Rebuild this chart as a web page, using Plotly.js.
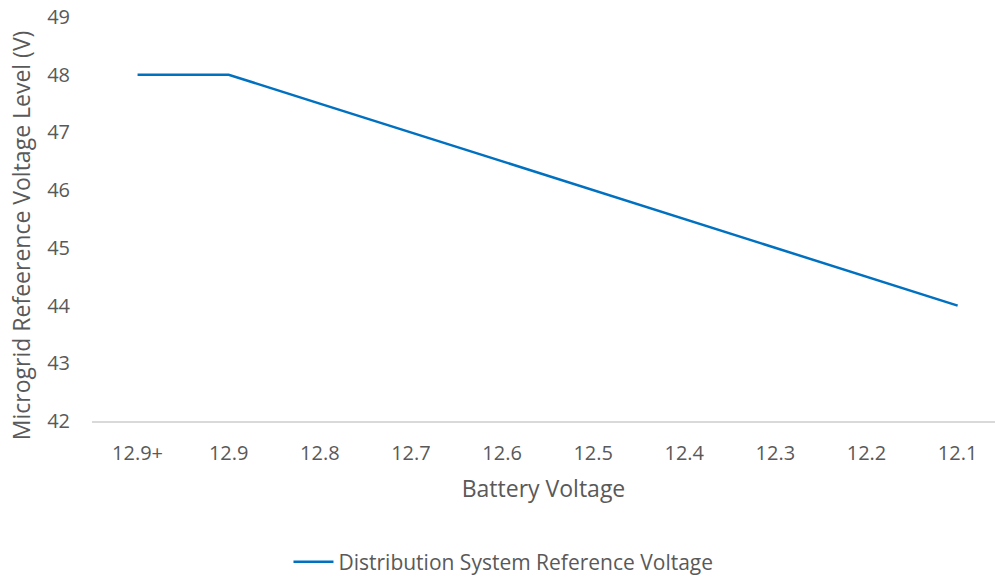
<!DOCTYPE html>
<html>
<head>
<meta charset="utf-8">
<script src="https://cdn.plot.ly/plotly-3.0.1.min.js"></script>
<style>
  html, body { margin: 0; padding: 0; background: #ffffff; }
  #chart { width: 995px; height: 577px; }
</style>
</head>
<body>
<div id="chart"></div>
<script>
// Battery voltage steps (x categories) and the microgrid reference voltage set at each step
const batteryVoltage = ['12.9+', '12.9', '12.8', '12.7', '12.6', '12.5', '12.4', '12.3', '12.2', '12.1'];
const referenceVoltage = [48, 48, 47.5, 47, 46.5, 46, 45.5, 45, 44.5, 44];
const yTickValues = [42, 43, 44, 45, 46, 47, 48, 49];

const textColor = '#595959';
const fontFamily = '"Open Sans", "Noto Sans", sans-serif';

const trace = {
  type: 'scatter',
  mode: 'lines',
  x: batteryVoltage,
  y: referenceVoltage,
  name: 'Distribution System Reference Voltage',
  line: { color: '#0070C0', width: 2.5 },
  hoverinfo: 'skip'
};

const layout = {
  width: 995,
  height: 577,
  margin: { l: 92, r: 0, t: 17, b: 156 },
  paper_bgcolor: '#ffffff',
  plot_bgcolor: '#ffffff',
  font: { family: fontFamily, color: textColor, size: 20 },
  showlegend: true,
  legend: {
    orientation: 'h',
    xref: 'container',
    yref: 'container',
    x: 0.506,
    xanchor: 'center',
    y: 0.026,
    yanchor: 'middle',
    font: { size: 21, color: textColor },
    itemwidth: 40
  },
  xaxis: {
    type: 'category',
    range: [-0.5, 9.41],
    showgrid: false,
    zeroline: false,
    showline: true,
    linecolor: '#d9d9d9',
    linewidth: 2,
    ticks: '',
    ticklabelstandoff: 13,
    tickfont: { size: 20, color: textColor },
    title: { text: 'Battery Voltage', font: { size: 23, color: textColor }, standoff: 16 }
  },
  yaxis: {
    range: [42, 49],
    tickvals: yTickValues,
    showgrid: false,
    zeroline: false,
    showline: false,
    ticks: '',
    ticklabelstandoff: 21,
    tickfont: { size: 20, color: textColor }
  },
  annotations: [{
    // vertical axis title, placed left of the tick labels
    text: 'Microgrid Refeerence Voltage Level (V)',
    textangle: -90,
    xref: 'paper',
    yref: 'paper',
    x: -0.0786,
    y: 0.46,
    xanchor: 'center',
    yanchor: 'middle',
    showarrow: false,
    font: { size: 23, color: textColor }
  }]
};

Plotly.newPlot('chart', [trace], layout, { displayModeBar: false, staticPlot: true });
</script>
</body>
</html>
